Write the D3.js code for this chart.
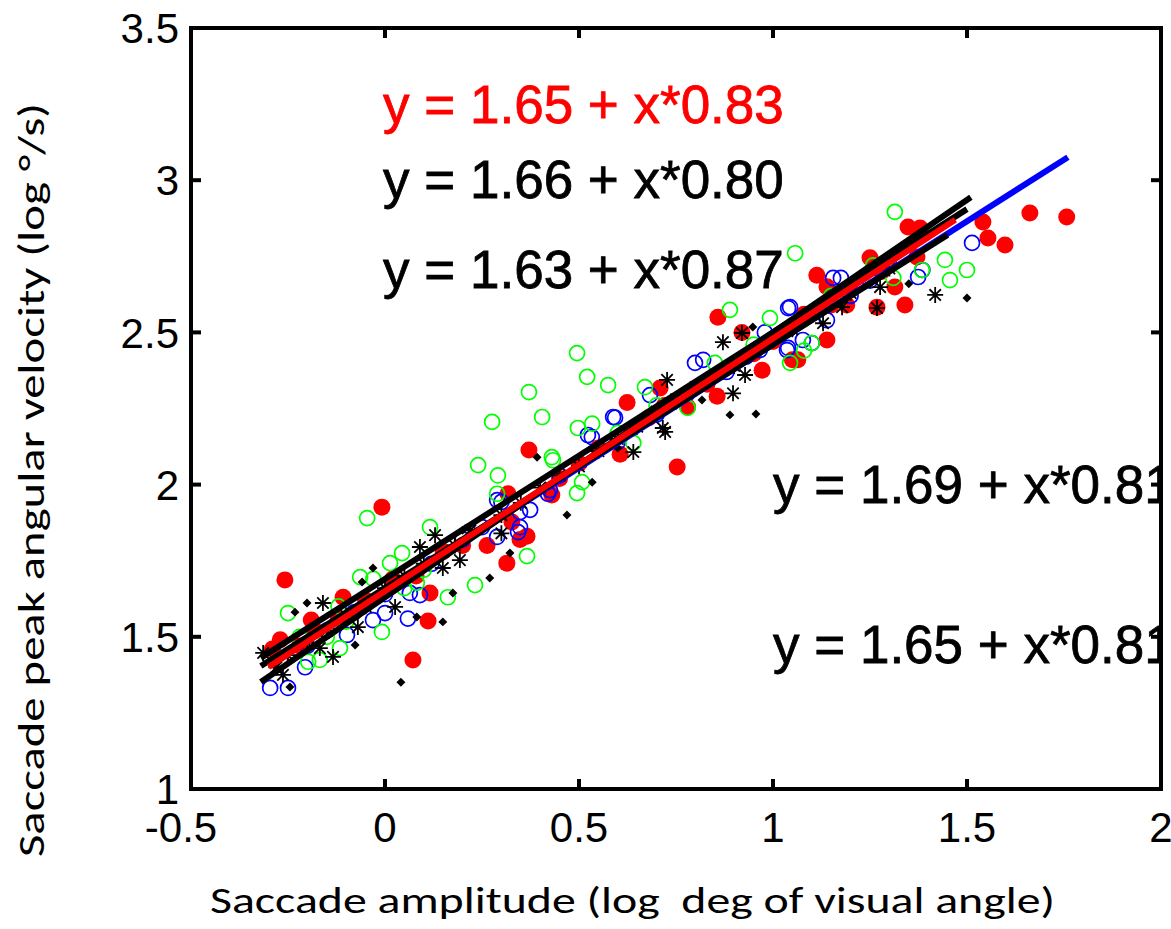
<!DOCTYPE html>
<html><head><meta charset="utf-8">
<script src="https://cdn.jsdelivr.net/npm/d3@7"></script>
<style>html,body{margin:0;padding:0;background:#fff;} svg{display:block;}</style>
</head><body>
<svg id="chart" width="1171" height="929"></svg>
<script>
// ---- data ----
const xTicks = [-0.5, 0, 0.5, 1, 1.5, 2];
const yTicks = [1, 1.5, 2, 2.5, 3, 3.5];
const xTickLabels = ["-0.5", "0", "0.5", "1", "1.5", "2"];
const yTickLabels = ["1", "1.5", "2", "2.5", "3", "3.5"];

const redPts = [[-0.258,1.687],[-0.008,1.926],[0.072,1.424],[0.111,1.552],[0.314,1.742],[0.263,1.80],[0.348,1.82],[-0.108,1.63],[-0.27,1.49],[-0.29,1.46],[-0.19,1.555],[0.116,1.644],
[0.371,2.114],[0.624,2.27],[0.317,1.97],[0.43,1.966],[0.606,2.10],[0.327,1.877],
[0.858,2.55],[0.753,2.058],[0.92,2.50],[0.972,2.376],[0.856,2.29],[0.78,2.255],[0.366,1.83],[0.709,2.317],[1.05,2.41],
[1.662,2.892],[1.757,2.879],[1.541,2.863],[1.554,2.81],[1.598,2.787],[1.348,2.846],[1.379,2.843],[1.25,2.745],[1.113,2.688],[1.371,2.748],[1.314,2.649],[1.34,2.59],[1.268,2.583],[1.139,2.475],[1.064,2.41],[1.19,2.59],[1.139,2.65],
[-0.22,1.47],[-0.18,1.52],[-0.12,1.56],[-0.05,1.62],[0.02,1.69],[0.08,1.70],[0.15,1.78],[0.2,1.80],[0.45,2.02],[0.5,2.07],[0.55,2.12],[0.68,2.22],[0.72,2.26],[0.83,2.33],[0.95,2.43],[1.0,2.47],[1.08,2.56],[1.15,2.59],[1.2,2.64],[1.28,2.70]];

const bluePts = [[-0.296,1.332],[-0.25,1.332],[-0.206,1.40],[-0.098,1.506],[-0.031,1.555],[0,1.578],[0.059,1.56],[0.064,1.644],[0.09,1.637],[0.289,1.828],[0.343,1.844],[0.30,1.943],[0.348,1.91],
[0.593,2.22],[0.799,2.40],[0.82,2.41],[0.523,2.163],[0.374,1.917],[0.425,1.982],[1.036,2.442],[1.044,2.583],[0.683,2.294],
[1.513,2.794],[1.374,2.682],[1.385,2.705],[1.155,2.679],[1.175,2.679],[1.039,2.58],[0.979,2.50],[1.039,2.449],[1.077,2.475],[1.10,2.465],[1.139,2.54],[0.966,2.442],
[0.588,2.222],[0.533,2.156],[0.289,1.949],[0.348,1.86],[0.42,1.97],
[-0.27,1.42],[-0.2,1.47],[-0.15,1.52],[-0.08,1.58],[0.0,1.64],[0.12,1.74],[0.2,1.82],[0.25,1.86],[0.45,2.03],[0.6,2.14],[0.7,2.23],[0.78,2.30],[0.88,2.37],[0.93,2.42],[1.2,2.62],[1.25,2.67],[1.3,2.72]];

const greenPts = [[0.495,2.432],[0.521,2.354],[0.575,2.327],[0.371,2.304],[0.405,2.222],[0.276,2.206],[0.497,2.186],[0.534,2.20],[0.24,2.064],[0.291,2.03],[0.43,2.09],[0.289,1.97],[0.508,2.008],[0.495,1.972],[-0.046,1.89],[0.116,1.86],
[0.044,1.775],[0.013,1.742],[-0.064,1.696],[-0.03,1.69],[-0.25,1.578],[0.232,1.67],[0.162,1.63],[-0.008,1.516],[-0.116,1.463],[-0.168,1.424],[0.082,1.677],[-0.198,1.418],[0.366,1.765],
[0.889,2.574],[0.67,2.32],[0.78,2.252],[1.044,2.40],[0.992,2.547],[0.64,2.137],[0.433,2.08],
[1.314,2.896],[1.057,2.76],[1.443,2.738],[1.384,2.705],[1.50,2.705],[1.456,2.672],[1.31,2.679],[1.258,2.72],[1.10,2.465],[1.08,2.44],
[-0.22,1.50],[-0.15,1.50],[-0.1,1.55],[-0.12,1.60],[0.05,1.66],[0.1,1.72],[0.6,2.17],[0.7,2.26],[0.85,2.40],[0.95,2.46],[1.15,2.62],[1.22,2.66]];

const starPts = [[-0.314,1.447],[0.129,1.834],[0.09,1.795],[0.193,1.752],[0.026,1.598],[-0.07,1.532],[-0.16,1.611],[-0.168,1.463],[-0.134,1.434],[0.30,1.84],[0.149,1.726],[-0.263,1.375],
[1.418,2.623],[1.268,2.58],[1.276,2.649],[1.178,2.583],[1.129,2.53],
[0.871,2.468],[0.92,2.498],[0.928,2.36],[0.897,2.30],[0.716,2.186],[0.64,2.107],[0.727,2.344],[0.722,2.173],
[-0.28,1.40],[-0.25,1.44],[-0.2,1.48],[-0.15,1.52],[-0.1,1.57],[-0.05,1.60],[0,1.66],[0.05,1.70],[0.1,1.74],[0.18,1.80],[0.22,1.85],[0.3,1.90],[0.35,1.94],[0.4,1.99],[0.45,2.03],[0.5,2.06],[0.55,2.11],[0.6,2.15],[0.65,2.19],[0.7,2.24],[0.75,2.28],[0.8,2.32],[0.85,2.36],[0.9,2.39],[1.0,2.48],[1.05,2.51],[1.1,2.56],[1.2,2.63],[1.3,2.71]];

const dotPts = [[-0.201,1.611],[-0.232,1.581],[-0.031,1.726],[-0.059,1.68],[-0.077,1.473],[-0.245,1.335],[0.041,1.351],[0.082,1.565],[0.149,1.549],[0.175,1.644],[0.27,1.693],[0.322,1.775],
[0.392,2.09],[0.534,2.008],[0.469,1.90],[0.889,2.229],[0.956,2.232],[0.817,2.278],[0.948,2.518],[1.50,2.613],
[-0.28,1.40],[-0.1,1.55],[0.2,1.85],[0.6,2.12],[0.75,2.26],[1.05,2.50],[1.25,2.66],[1.35,2.66]];

// fit lines: intercept, slope, x range
const fitIntercepts = [1.65, 1.66, 1.63, 1.69, 1.65];
const fitSlopes     = [0.81, 0.80, 0.87, 0.81, 0.83];
const fitX0         = [-0.30, -0.32, -0.32, -0.32, -0.30];
const fitX1         = [1.76, 1.45, 1.51, 1.50, 1.47];
const fitColors     = ["#0000ff", "#000000", "#000000", "#000000", "#ff0000"];

// equation labels
const eqTexts  = ["y = 1.65 + x*0.83", "y = 1.66 + x*0.80", "y = 1.63 + x*0.87", "y = 1.69 + x*0.81", "y = 1.65 + x*0.81"];
const eqX      = [-0.005, -0.005, -0.005, 1.0, 1.0];
const eqY      = [3.188, 2.942, 2.646, 1.94, 1.414];
const eqColors = ["#ff0000", "#000", "#000", "#000", "#000"];

// ---- drawing ----
const svg = d3.select("#chart");
const L = 191, R = 1161, T = 28, B = 789;
const x = d3.scaleLinear().domain([-0.5, 2]).range([L, R]);
const y = d3.scaleLinear().domain([1, 3.5]).range([B, T]);

svg.append("defs").append("clipPath").attr("id","clip")
  .append("rect").attr("x", L).attr("y", T).attr("width", R - L).attr("height", B - T);

const plot = svg.append("g").attr("clip-path", "url(#clip)");

// red filled dots
plot.append("g").selectAll("circle").data(redPts).join("circle")
  .attr("cx", d => x(d[0])).attr("cy", d => y(d[1])).attr("r", 8.5).attr("fill", "#ff0000");
// blue open circles
plot.append("g").selectAll("circle").data(bluePts).join("circle")
  .attr("cx", d => x(d[0])).attr("cy", d => y(d[1])).attr("r", 7.5)
  .attr("fill", "none").attr("stroke", "#0000ff").attr("stroke-width", 1.7);
// green open circles
plot.append("g").selectAll("circle").data(greenPts).join("circle")
  .attr("cx", d => x(d[0])).attr("cy", d => y(d[1])).attr("r", 7.5)
  .attr("fill", "none").attr("stroke", "#00ff00").attr("stroke-width", 1.7);
// black small diamonds
plot.append("g").selectAll("path").data(dotPts).join("path")
  .attr("d", d3.symbol().type(d3.symbolSquare).size(40))
  .attr("transform", d => `translate(${x(d[0])},${y(d[1])}) rotate(45)`)
  .attr("fill", "#000");
// black asterisks
const starPath = "M-8,0L8,0M0,-8L0,8M-5.7,-5.7L5.7,5.7M-5.7,5.7L5.7,-5.7";
plot.append("g").selectAll("path").data(starPts).join("path")
  .attr("d", starPath)
  .attr("transform", d => `translate(${x(d[0])},${y(d[1])})`)
  .attr("stroke", "#000").attr("stroke-width", 1.8).attr("fill", "none");

// fit lines
const line = d3.line().x(d => x(d[0])).y(d => y(d[1]));
fitIntercepts.forEach((b, i) => {
  const m = fitSlopes[i];
  const seg = [[fitX0[i], b + m * fitX0[i]], [fitX1[i], b + m * fitX1[i]]];
  plot.append("path").attr("d", line(seg))
    .attr("stroke", fitColors[i]).attr("stroke-width", 6).attr("fill", "none");
});

// equations
eqTexts.forEach((t, i) => {
  plot.append("text").attr("x", x(eqX[i])).attr("y", y(eqY[i]))
    .attr("font-family", "Liberation Sans, Arial, sans-serif").attr("font-size", 53)
    .attr("fill", eqColors[i]).attr("stroke", eqColors[i]).attr("stroke-width", 0.8)
    .text(t);
});

// frame
svg.append("rect").attr("x", L).attr("y", T).attr("width", R - L).attr("height", B - T)
  .attr("fill", "none").attr("stroke", "#000").attr("stroke-width", 4);

// ticks (inward, all four sides)
const tk = 10;
const ticksG = svg.append("g").attr("stroke", "#000").attr("stroke-width", 4);
xTicks.forEach(v => {
  ticksG.append("line").attr("x1", x(v)).attr("x2", x(v)).attr("y1", B).attr("y2", B - tk);
  ticksG.append("line").attr("x1", x(v)).attr("x2", x(v)).attr("y1", T).attr("y2", T + tk);
});
yTicks.forEach(v => {
  ticksG.append("line").attr("x1", L).attr("x2", L + tk).attr("y1", y(v)).attr("y2", y(v));
  ticksG.append("line").attr("x1", R).attr("x2", R - tk).attr("y1", y(v)).attr("y2", y(v));
});

// tick labels
const tf = "Liberation Sans, Arial, sans-serif";
xTicks.forEach((v, i) => {
  svg.append("text").attr("x", x(v) + (i === 0 ? -10 : 0)).attr("y", 842)
    .attr("text-anchor", "middle").attr("font-family", tf).attr("font-size", 42)
    .attr("fill", "#000").text(xTickLabels[i]);
});
yTicks.forEach((v, i) => {
  svg.append("text").attr("x", 179).attr("y", y(v)).attr("dy", "0.36em")
    .attr("text-anchor", "end").attr("font-family", tf).attr("font-size", 42)
    .attr("fill", "#000").text(yTickLabels[i]);
});

// axis titles
const af = "Carlito, 'Open Sans', Lato, sans-serif";
svg.append("text").attr("x", 210).attr("y", 913)
  .attr("font-family", af).attr("font-size", 36).attr("fill", "#000")
  .style("white-space", "pre")
  .attr("textLength", 845).attr("lengthAdjust", "spacingAndGlyphs")
  .text("Saccade amplitude (log  deg of visual angle)");
svg.append("text").attr("transform", "translate(44,857) rotate(-90)")
  .attr("font-family", af).attr("font-size", 36).attr("fill", "#000")
  .attr("textLength", 754).attr("lengthAdjust", "spacingAndGlyphs")
  .text("Saccade peak angular velocity (log \u00B0/s)");
</script>
</body></html>
